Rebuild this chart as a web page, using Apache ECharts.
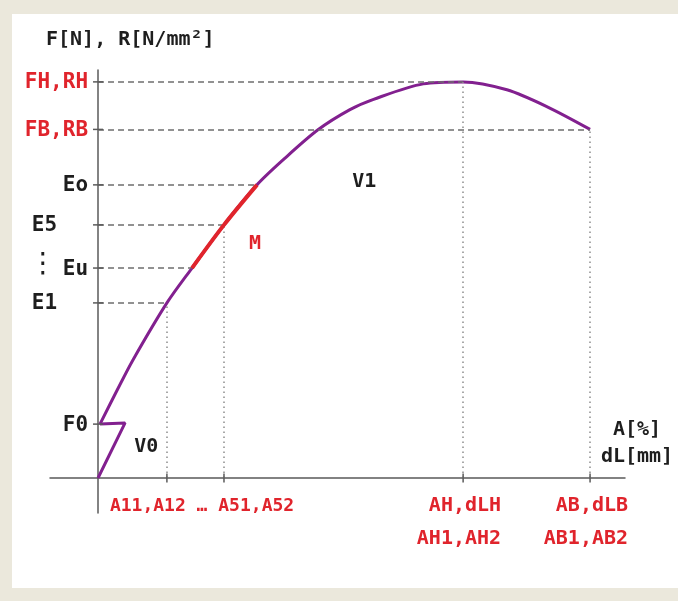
<!DOCTYPE html>
<html>
<head>
<meta charset="utf-8">
<script src="https://cdn.jsdelivr.net/npm/echarts@6/dist/echarts.min.js"></script>
<style>
  html, body { margin: 0; padding: 0; background: #ebe8dc; }
  #chart { width: 678px; height: 601px; }
</style>
</head>
<body>
<div id="chart"></div>
<script>
// Load–extension diagram of a tensile test (schematic units: A = 0..100, F = 0..100)

// Force levels marked on the vertical axis
const yTickNames  = ['FH,RH', 'FB,RB', 'Eo', 'E5', 'Eu', 'E1', 'F0'];
const yTickValues = [100, 88.0, 74.0, 63.9, 53.0, 44.2, 13.6];
// extension where each level's guide line meets the curve (0 = no guide)
const yTickReach  = [74.2, 100, 32.3, 25.6, 19.1, 14.0, 0];

// Extension marks on the horizontal axis
const xTickValues = [14.0, 25.6, 74.2, 100];
const xTickLabels = ['A11,A12 … A51,A52', '', 'AH,dLH\nAH1,AH2', 'AB,dLB\nAB1,AB2'];
// force level where each vertical guide meets the curve
const xTickReach  = [44.2, 63.9, 100, 88.0];

// Elastic start with the jump at F0
const startPath = [[0, 0], [5.5, 13.9], [0.4, 13.6]];

// Main load curve from F0 to fracture
const curve = [
  [0.4, 13.6], [3.9, 22.2], [7.1, 29.8], [14.0, 44.2], [19.1, 53.0],
  [25.6, 63.9], [32.3, 74.0], [37.6, 80.3], [44.7, 87.9], [51.2, 93.0],
  [56.0, 95.6], [66.1, 99.5], [74.2, 100], [83.1, 98.0], [91.3, 93.7],
  [100, 88.0]
];

// Range used for the modulus evaluation (Eu .. Eo)
const modulusFrom = 53.0, modulusTo = 74.0;
const modulusRange = curve.filter(p => p[1] >= modulusFrom && p[1] <= modulusTo);

// Free-standing annotations
const noteTexts  = ['V0', 'V1', 'M', '⋮'];
const noteCoords = [[9.8, 7.8], [54.1, 74.7], [31.9, 59.1], [0, 53.9]];

const RED = '#e0242c';
const INK = '#1e1e1e';
const PURPLE = '#82208f';
const FONT = 'DejaVu Sans Mono';
const redNames = new Set(['FH,RH', 'FB,RB']);
const outerNames = new Set(['E5', 'E1']);

const chart = echarts.init(document.getElementById('chart'), null, { renderer: 'canvas' });

const hGuides = yTickNames.map((n, i) => yTickReach[i] > 0
  ? [{ coord: [0, yTickValues[i]] }, { coord: [yTickReach[i], yTickValues[i]] }]
  : null).filter(Boolean);
const vGuides = xTickValues.map((v, i) =>
  [{ coord: [v, 0] }, { coord: [v, xTickReach[i]] }]);

chart.setOption({
  animation: false,
  backgroundColor: '#ebe8dc',
  graphic: [{
    type: 'rect', z: -10, silent: true,
    shape: { x: 12, y: 14, width: 670, height: 574 },
    style: { fill: '#ffffff' }
  }],
  title: {
    text: 'F[N], R[N/mm²]',
    left: 46, top: 30, padding: 0,
    textStyle: { fontFamily: FONT, fontWeight: 'bold', fontSize: 20, color: INK }
  },
  grid: { left: 50, right: 53, top: 70, bottom: 88 },
  xAxis: {
    type: 'value', min: -9.76, max: 107.1,
    axisLine: { onZero: true, lineStyle: { color: '#5a5a5a', width: 1.5 } },
    axisTick: { show: false }, axisLabel: { show: false }, splitLine: { show: false },
    name: 'A[%]\ndL[mm]', nameLocation: 'end', nameGap: 12,
    nameTextStyle: {
      fontFamily: FONT, fontWeight: 'bold', fontSize: 20, color: INK,
      align: 'center', verticalAlign: 'bottom', lineHeight: 27, padding: [0, 0, 8, 0]
    }
  },
  yAxis: {
    type: 'value', min: -8.84, max: 103.0,
    axisLine: { onZero: true, lineStyle: { color: '#5a5a5a', width: 1.5 } },
    axisTick: { show: false }, axisLabel: { show: false }, splitLine: { show: false }
  },
  series: [
    { // dashed horizontal guides
      type: 'line', data: [], silent: true,
      markLine: {
        silent: true, symbol: 'none', label: { show: false },
        lineStyle: { color: '#6e6e6e', width: 1.5, type: [6, 4] },
        data: hGuides
      }
    },
    { // dotted vertical guides
      type: 'line', data: [], silent: true,
      markLine: {
        silent: true, symbol: 'none', label: { show: false },
        lineStyle: { color: '#8c8c8c', width: 1.5, type: [1.5, 3.5] },
        data: vGuides
      }
    },
    {
      type: 'line', data: startPath, showSymbol: false, silent: true,
      lineStyle: { color: PURPLE, width: 3 }, z: 4
    },
    {
      type: 'line', data: curve, smooth: 0.3, showSymbol: false, silent: true,
      lineStyle: { color: PURPLE, width: 3 }, z: 4
    },
    {
      type: 'line', data: modulusRange, smooth: 0.3, showSymbol: false, silent: true,
      lineStyle: { color: RED, width: 4 }, z: 5
    },
    { // y-axis ticks with their labels
      type: 'scatter', symbol: 'rect', symbolSize: [10, 1.5], silent: true, z: 6,
      itemStyle: { color: '#5a5a5a', opacity: 1 },
      data: yTickNames.map((n, i) => ({
        value: [0, yTickValues[i]], name: n,
        label: {
          show: true, position: 'inside', align: 'right', verticalAlign: 'middle',
          offset: [outerNames.has(n) ? -41 : -10, 1],
          formatter: n,
          fontFamily: FONT, fontWeight: 'bold', fontSize: 21,
          color: redNames.has(n) ? RED : INK
        }
      }))
    },
    { // x-axis ticks with their labels
      type: 'scatter', symbol: 'rect', symbolSize: [1.5, 9], silent: true, z: 6,
      itemStyle: { color: '#5a5a5a', opacity: 1 },
      data: xTickValues.map((v, i) => ({
        value: [v, 0],
        label: i === 0 ? {
          show: true, position: 'inside', align: 'left', verticalAlign: 'middle',
          offset: [-57, 28], formatter: xTickLabels[i],
          fontFamily: FONT, fontWeight: 'bold', fontSize: 18, color: RED
        } : {
          show: xTickLabels[i] !== '', position: 'inside', align: 'right', verticalAlign: 'middle',
          offset: [38, 44], lineHeight: 33, formatter: xTickLabels[i],
          fontFamily: FONT, fontWeight: 'bold', fontSize: 20, color: RED
        }
      }))
    },
    { // free annotations
      type: 'scatter', symbolSize: 0, silent: true, z: 6,
      itemStyle: { opacity: 1 },
      data: noteTexts.map((t, i) => ({
        value: noteCoords[i],
        label: {
          show: true, position: 'inside', align: 'center', verticalAlign: 'middle',
          offset: t === '⋮' ? [-55, 0] : [0, 0],
          formatter: t,
          fontFamily: t === '⋮' ? 'DejaVu Sans' : FONT,
          fontWeight: t === '⋮' ? 'normal' : 'bold',
          fontSize: t === '⋮' ? 28 : 20,
          color: t === 'M' ? RED : INK
        }
      }))
    }
  ]
});
</script>
</body>
</html>
